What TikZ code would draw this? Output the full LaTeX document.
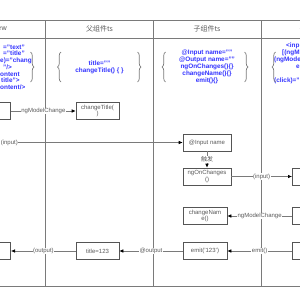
\documentclass[tikz,border=0pt]{standalone}
\usepackage{fontspec}
\setmainfont{Liberation Sans}
\newfontfamily\cjk{Noto Sans CJK SC}
\usepackage{tikz}
\usetikzlibrary{arrows.meta, decorations.pathreplacing}
\definecolor{lanegray}{HTML}{7A7A7A}
\definecolor{boxgray}{HTML}{555555}
\definecolor{txtgray}{HTML}{5A5A5A}
\definecolor{codeblue}{HTML}{3333FF}
\tikzset{
  lane/.style={draw=lanegray, line width=0.8pt},
  box/.style={draw=boxgray, fill=white, line width=0.6pt, minimum height=17pt, inner sep=1pt, align=center, text=txtgray, font=\fontsize{6}{6.5}\selectfont},
  flow/.style={draw=lanegray, line width=0.6pt},
  arrow/.style={-{Latex[length=4pt,width=3.5pt,color=black]}},
  tag/.style={fill=white, inner sep=0.5pt, text=txtgray, font=\fontsize{6}{6}\selectfont},
  code/.style={text=codeblue, align=center, inner sep=0pt, font=\bfseries\fontsize{6.4}{7}\selectfont},
  curly/.style={decorate, decoration={brace, amplitude=3.5pt}, draw=lanegray, line width=0.7pt},
  head/.style={text=txtgray, font=\cjk\fontsize{7}{7}\selectfont}
}

\begin{document}
\begin{tikzpicture}[x=1pt, y=-1pt]
  \useasboundingbox (0,0) rectangle (300,300);
  \clip (0,0) rectangle (300,300);
  % lanes
  \foreach \y in {20,38,286} \draw[lane] (0,\y) -- (300,\y);
  \foreach \x in {45,153,261} \draw[lane] (\x,20) -- (\x,286);
  \node[head, anchor=east] (hView) at (10.5,29) {ew};
  \node[head] (hParent) at (99.5,29) {父组件ts};
  \node[head] (hChild) at (207,29) {子组件ts};
  \node[head, anchor=west] (hChildView) at (296,29) {子};

  % code blocks
  \node[code, anchor=west] (v1) at (3,47) {="text"};
  \node[code, anchor=west] (v2) at (3,53.5) {="title"};
  \node[code, anchor=west] (v3) at (0,60.5) {e)="chang};
  \node[code, anchor=west] (v4) at (3,67) {"/>};
  \node[code, anchor=west] (v5) at (0,74) {ontent};
  \node[code, anchor=west] (v6) at (1,80.5) {title">};
  \node[code, anchor=west] (v7) at (0,87.5) {ontent/>};
  \node[code] (parentCode) at (99.5,67) {title=""\\changeTitle() \{ \}};
  \node[code] (childCode) at (207,67) {@Input name=""\\@Output name=""\\ngOnChanges()\{\}\\changeName()\{\}\\emit()\{\}};
  \node[code, anchor=west] (c1) at (286,46) {<inp};
  \node[code, anchor=west] (c2) at (282,53) {[(ngM};
  \node[code, anchor=west] (c3) at (274,60) {(ngMode};
  \node[code, anchor=west] (c4) at (296,67) {e};
  \node[code, anchor=west] (c5) at (274,81) {(click)="};
  \draw[curly] (30.5,52) -- (30.5,82);
  \draw[curly] (61,82) -- (61,52);
  \draw[curly] (137.5,52) -- (137.5,82);
  \draw[curly] (165.5,82) -- (165.5,52);
  \draw[curly] (244.5,52) -- (244.5,82);
  \draw[curly] (275.5,82) -- (275.5,52);

  % flow boxes
  \node[box, minimum width=40pt, anchor=east] (viewTop) at (11,111) {};
  \node[box, minimum width=43pt] (changeTitle) at (97.5,111) {changeTitle(\\)};
  \coordinate (inputFrom) at (0,142.5);
  \node[box, minimum width=48pt] (inputName) at (207,142.5) {@Input name};
  \node[box, minimum width=48pt] (onChanges) at (207,176.5) {ngOnChanges\\()};
  \node[box, minimum width=40pt, anchor=west] (childIn) at (292,176.5) {};
  \node[box, minimum width=44pt] (changeName) at (205,216) {changeNam\\e()};
  \node[box, minimum width=40pt, anchor=west] (childModel) at (292,216) {};
  \node[box, minimum width=44pt] (emitBox) at (205,251) {emit('123')};
  \node[box, minimum width=40pt, anchor=west] (childEmit) at (292,251) {};
  \node[box, minimum width=43pt] (titleBox) at (97.5,251) {title=123};
  \node[box, minimum width=40pt, anchor=east] (viewBottom) at (11,251) {};

  % connectors
  \draw[flow, arrow] (viewTop) -- node[tag] {ngModelChange} (changeTitle);
  \draw[flow, arrow] (inputFrom) -- node[tag, pos=0, anchor=west] {(input)} (inputName);
  \draw[flow, arrow] (inputName) -- node[tag] {\cjk 触发} (onChanges);
  \draw[flow, arrow] (onChanges) -- node[tag] {(input)} (childIn);
  \draw[flow, arrow] (childModel) -- node[tag] {ngModelChange} (changeName);
  \draw[flow, arrow] (childEmit) -- node[tag] {emit()} (emitBox);
  \draw[flow, arrow] (emitBox) -- node[tag] {@output} (titleBox);
  \draw[flow, arrow] (titleBox) -- node[tag] {(output)} (viewBottom);
\end{tikzpicture}
\end{document}
